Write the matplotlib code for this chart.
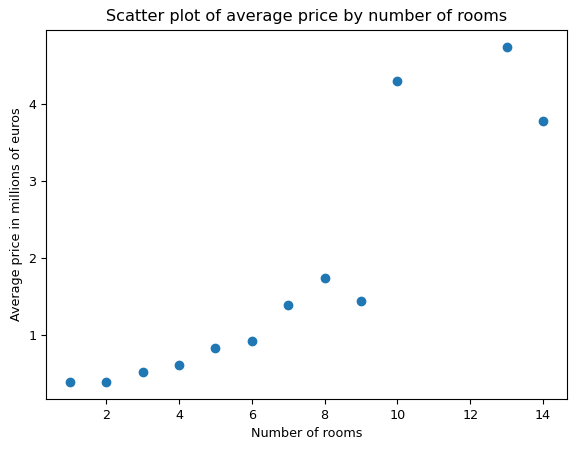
import matplotlib
matplotlib.use("Agg")
import matplotlib.pyplot as plt

rooms = [1, 2, 3, 4, 5, 6, 7, 8, 9, 10, 13, 14]
avg_price = [0.39, 0.39, 0.52, 0.61, 0.84, 0.92, 1.39, 1.74, 1.45, 4.30, 4.74, 3.78]

fig, ax = plt.subplots(figsize=(5.76, 4.51), dpi=100)
fig.subplots_adjust(left=0.08, right=0.984, top=0.934, bottom=0.115)

ax.scatter(rooms, avg_price)
ax.set_title("Scatter plot of average price by number of rooms", fontsize=11.6)
ax.set_xlabel("Number of rooms", fontsize=9.2)
ax.set_ylabel("Average price in millions of euros", fontsize=9.2)
ax.tick_params(labelsize=9.2)

fig.savefig("out.png", dpi=100)
